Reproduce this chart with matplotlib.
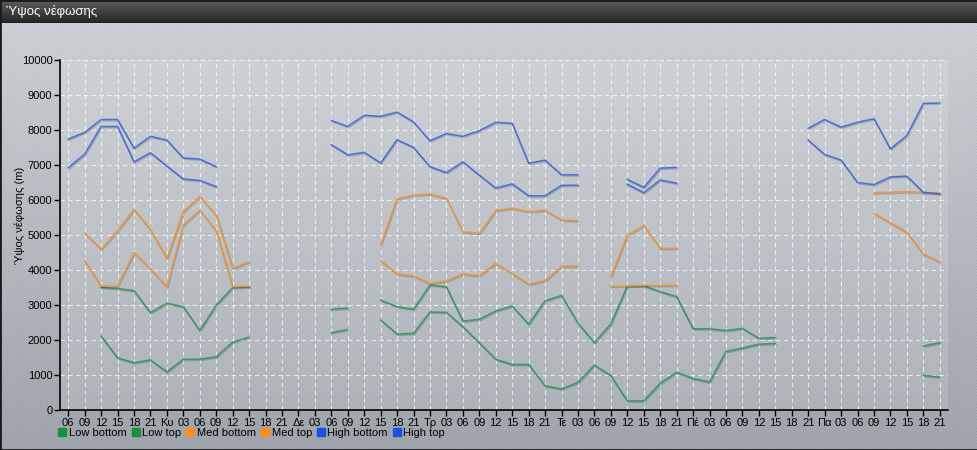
import numpy as np
import matplotlib
matplotlib.use("Agg")
import matplotlib.pyplot as plt
import matplotlib.patheffects as pe
from matplotlib.lines import Line2D
from matplotlib.patches import Rectangle

plt.rcParams['font.family'] = ['Liberation Sans', 'DejaVu Sans']

nan = np.nan

# x axis: 3-hourly steps, day names replace the 00 hour
first_hours = ["06", "09", "12", "15", "18", "21"]
day_names = ["Κυ", "Δε", "Τρ", "Τε", "Πέ", "Πα"]
day_hours = ["03", "06", "09", "12", "15", "18", "21"]

tick_labels = list(first_hours)
for d in day_names:
    tick_labels += [d] + day_hours

# cloud heights (m), NaN = no layer
low_bottom = [nan, nan, 2110, 1490, 1350, 1430, 1090, 1450, 1450, 1520, 1940, 2080,
              nan, nan, nan, nan, 2210, 2300, nan, 2570, 2170, 2190, 2800, 2790,
              2380, 1920, 1450, 1300, 1300, 690, 600, 790, 1280, 980, 260, 260,
              760, 1080, 900, 800, 1670, 1770, 1880, 1900, nan, nan, nan, nan,
              nan, nan, nan, nan, 990, 940]
low_top = [nan, nan, 3500, 3470, 3410, 2780, 3050, 2950, 2270, 2990, 3500, 3520,
           nan, nan, nan, nan, 2880, 2910, nan, 3140, 2950, 2880, 3570, 3520,
           2540, 2590, 2830, 2970, 2450, 3120, 3270, 2480, 1920, 2460, 3540, 3550,
           3380, 3240, 2320, 2320, 2270, 2330, 2050, 2070, nan, nan, nan, nan,
           nan, nan, nan, nan, 1830, 1920]
med_bottom = [nan, 4270, 3540, 3540, 4500, 4030, 3520, 5290, 5710, 5120, 3520, 3540,
              nan, nan, nan, nan, nan, nan, nan, 4270, 3890, 3830, 3620, 3690,
              3890, 3840, 4190, 3900, 3600, 3700, 4110, 4110, nan, 3540, 3540, 3560,
              3560, 3570, nan, nan, nan, nan, nan, nan, nan, nan, nan, nan,
              nan, 5620, 5350, 5080, 4460, 4240]
med_top = [nan, 5050, 4600, 5120, 5730, 5160, 4330, 5670, 6100, 5570, 4050, 4240,
           nan, nan, nan, nan, nan, nan, nan, 4710, 6040, 6140, 6170, 6050,
           5090, 5050, 5700, 5770, 5670, 5710, 5430, 5410, nan, 3810, 5000, 5270,
           4620, 4620, nan, nan, nan, nan, nan, nan, nan, nan, nan, nan,
           nan, 6210, 6220, 6240, 6220, 6190]
high_bottom = [6920, 7310, 8100, 8100, 7090, 7350, 6970, 6600, 6560, 6380, nan, nan,
               nan, nan, nan, nan, 7580, 7290, 7360, 7060, 7720, 7500, 6950, 6780,
               7090, 6710, 6340, 6460, 6120, 6120, 6420, 6420, nan, nan, 6450, 6210,
               6570, 6480, nan, nan, nan, nan, nan, nan, nan, 7710, 7300, 7140,
               6500, 6440, 6660, 6680, 6220, 6180]
high_top = [7740, 7930, 8300, 8300, 7480, 7820, 7710, 7200, 7170, 6950, nan, nan,
            nan, nan, nan, nan, 8270, 8100, 8420, 8390, 8510, 8230, 7690, 7900,
            7820, 7980, 8220, 8190, 7050, 7140, 6720, 6720, nan, nan, 6590, 6360,
            6910, 6930, nan, nan, nan, nan, nan, nan, nan, 8050, 8300, 8080,
            8220, 8320, 7460, 7840, 8760, 8770]

series = [
    ("Low bottom", low_bottom, "#2e9360", "#17903f"),
    ("Low top", low_top, "#2e9360", "#17903f"),
    ("Med bottom", med_bottom, "#f29330", "#ff8c1a"),
    ("Med top", med_top, "#f29330", "#ff8c1a"),
    ("High bottom", high_bottom, "#3a66d8", "#1d4fe6"),
    ("High top", high_top, "#3a66d8", "#1d4fe6"),
]

W, H = 978, 450
fig = plt.figure(figsize=(W / 100, H / 100), dpi=100)

# background: dark title bar + gray gradient with diagonal stripes
bg = np.zeros((H, W, 3))
yy, xx = np.mgrid[0:H, 0:W]
t = np.clip((yy - 22) / (H - 22), 0, 1)
top_col = np.array([208, 211, 214])
bot_col = np.array([163, 168, 173])
body = top_col[None, None, :] * (1 - t[..., None]) + bot_col[None, None, :] * t[..., None]
stripe = ((xx + yy) % 3 == 0)[..., None]
body = body - stripe * np.array([16, 12, 6])
bg[:] = body
tb = np.linspace(0, 1, 22)[:, None, None]
bg[:22] = np.array([92, 92, 92]) * (1 - tb) + np.array([40, 40, 40]) * tb
bg[22] = [30, 30, 30]
fig.figimage(np.clip(bg, 0, 255) / 255.0, xo=0, yo=0, origin='upper', zorder=-5)

fig.text(6 / W, 1 - 12 / H, "Ύψος νέφωσης", color="white", fontsize=9.5, va="center", ha="left")
fig.patches.append(Rectangle((0, 0), 1, 1, transform=fig.transFigure, fill=False,
                             edgecolor="#1a1a1a", linewidth=2))

ax = fig.add_axes([60 / W, 40 / H, (948 - 60) / W, (410 - 60) / H])
ax.patch.set_facecolor((1, 1, 1, 0.13))

x = np.arange(len(tick_labels))
shadow = [pe.SimpleLineShadow(offset=(0.6, -0.9), shadow_color="k", alpha=0.18), pe.Normal()]
for name, vals, col, _ in series:
    ax.plot(x, vals, color=col, linewidth=1.1, alpha=0.9, path_effects=shadow)

ax.set_xlim(-0.5, len(tick_labels) - 0.5)
ax.set_ylim(0, 10000)
ax.set_yticks(np.arange(0, 10001, 1000))
ax.set_xticks(x)
ax.set_xticklabels(tick_labels)
ax.tick_params(axis="both", labelsize=8, colors="black", length=4, width=1, pad=1.5)
ax.grid(True, color="white", linestyle=(0, (4, 3)), linewidth=0.8, alpha=0.7)
ax.set_axisbelow(True)
for s in ["top", "right"]:
    ax.spines[s].set_visible(False)
for s in ["left", "bottom"]:
    ax.spines[s].set_linewidth(1.2)

fig.text(20 / W, 235 / H, "Ύψος νέφωσης (m)", rotation=90, fontsize=8,
         va="center", ha="center")

handles = [Line2D([], [], linestyle="none", marker="s", markersize=6,
                  markerfacecolor=mc, markeredgecolor=mc, label=name)
           for name, _, _, mc in series]
fig.legend(handles=handles, loc="center left", bbox_to_anchor=(59 / W, 1 - 433 / H),
           ncol=6, frameon=False, fontsize=8, handlelength=0.6, handletextpad=0.3,
           columnspacing=0.5, borderaxespad=0, borderpad=0)

fig.savefig("out.png", dpi=100)
